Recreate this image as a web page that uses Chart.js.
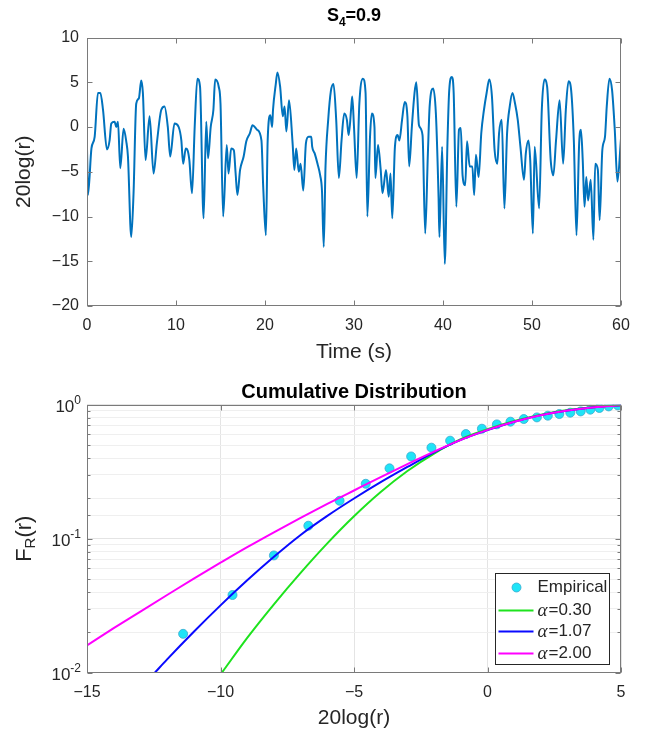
<!DOCTYPE html>
<html>
<head>
<meta charset="utf-8">
<script src="https://cdn.jsdelivr.net/npm/chart.js@4.4.0/dist/chart.umd.min.js"></script>
<style>
  html, body { margin: 0; padding: 0; background: #fff; }
  #quadro { position: relative; width: 649px; height: 734px; }
  canvas { position: absolute; left: 0; }
</style>
</head>
<body>
<div id="quadro">
  <canvas id="serie" width="649" height="365" style="top:0"></canvas>
  <canvas id="cdf" width="649" height="369" style="top:365px"></canvas>
</div>
<script>
// ---- dados ----
// sinal no tempo (s) e nível em dB
const tempo = [
  0, 0.11, 0.5, 0.86, 1.23, 1.5, 1.8, 2.24, 2.54, 2.73, 3.1, 3.29, 3.48, 3.74, 4.11, 4.41, 4.6, 4.97, 5.23, 5.53, 5.83, 6.09, 6.28, 6.58, 7.03, 7.48, 7.85, 8.34, 8.71, 9.08, 9.35, 9.83,
  10.3, 10.6, 10.8, 11.1, 11.3, 11.5, 11.8, 12.1, 12.4, 12.7, 13.1, 13.4, 13.6, 13.9, 14.2, 14.4, 14.8, 15.0, 15.3, 15.7, 15.9, 16.2, 16.5, 16.7, 16.9, 17.2, 17.6, 17.9, 18.3, 18.6, 19.1, 19.6, 19.8, 20.1,
  20.3, 20.6, 20.8, 20.9, 21.2, 21.4, 21.7, 22.0, 22.2, 22.4, 22.7, 23.1, 23.3, 23.5, 23.8, 24.0, 24.3, 24.6, 24.9, 25.2, 25.3, 25.6, 25.9, 26.2, 26.4, 26.6, 26.8, 27.1, 27.4, 27.7, 28.0, 28.3, 28.6, 28.9, 29.2, 29.4, 29.7, 29.8, 30.0, 30.3,
  30.6, 31.0, 31.3, 31.5, 31.8, 32.0, 32.3, 32.4, 32.7, 33.0, 33.2, 33.6, 33.9, 34.1, 34.3, 34.6, 34.9, 35.1, 35.4, 35.7, 36.0, 36.2, 36.5, 36.8, 37.0, 37.3, 37.7, 38.0, 38.3, 38.5, 38.9, 39.2, 39.5, 39.6, 39.9, 40.2,
  40.5, 40.7, 41.0, 41.2, 41.5, 41.8, 42.0, 42.2, 42.5, 42.7, 43.0, 43.3, 43.5, 43.7, 44.0, 44.3, 44.6, 44.9, 45.2, 45.5, 45.8, 46.1, 46.3, 46.6, 46.9, 47.2, 47.5, 47.8, 48.1, 48.4, 48.7, 49.1, 49.3, 49.6, 49.8, 50.1,
  50.3, 50.8, 51.1, 51.4, 51.7, 52.1, 52.4, 52.7, 53.1, 53.5, 53.8, 54.1, 54.4, 54.7, 55.0, 55.3, 55.5, 55.7, 55.9, 56.1, 56.3, 56.6, 56.9, 57.1, 57.4, 57.6, 57.9, 58.2, 58.4, 58.7, 59.0, 59.3, 59.6, 60.0
];
const nivel = [
  -2.3, -7.6, -2.4, -1.1, 3.8, 3.8, 1.9, -2.5, -1.5, 0.4, 0.6, 0.0, 0.6, -4.6, -0.2, -1.6, -3.3, -12.3, -7.4, 2.6, 3.2, 5.2, 3.8, -3.7, 1.2, -5.2, -1.8, 1.9, 2.3, 0.0, -3.3, 0.4,
  0.0, -1.5, -4.1, -2.4, -2.6, -3.7, -7.4, 0.0, 5.4, 4.5, -10.2, 0.6, -3.5, 0.0, 1.9, 5.3, 4.5, 2.6, -10.0, -2.0, -5.2, -2.4, -2.6, -5.2, -7.6, -4.8, -3.3, -1.6, -0.7, 0.2, -0.3, -1.5, -6.7, -12.1,
  -1.5, 1.3, 0.0, 1.9, 4.7, 6.1, 4.5, 1.2, 2.3, -0.5, 3.0, -1.8, -4.8, -2.4, -5.0, -4.1, -7.1, -1.8, -1.1, -1.1, -2.2, -3.0, -4.1, -5.4, -7.1, -13.4, -4.4, 0.8, 4.0, 4.8, 0.8, -5.7, -1.5, 1.5, 0.8, -0.9, 2.3, 3.4, 0.0, -5.7,
  2.6, 5.4, 3.8, -10.0, -1.1, 1.5, 0.0, -5.7, -2.0, -4.8, -7.4, -4.8, -7.8, -5.2, -10.2, -2.2, -0.9, -1.5, 0.8, 2.8, 1.2, -4.4, 0.0, 3.8, 5.0, 0.2, -0.9, -11.9, -3.0, 2.3, 4.3, 1.5, -7.8, -12.3, -2.2, -15.3,
  -1.8, 4.1, 5.6, 3.8, -8.9, -0.3, -0.1, -5.4, -6.5, -1.6, -4.4, -4.4, -7.6, -3.1, -5.6, -0.7, 1.9, 3.8, 5.3, 3.4, -2.6, -4.1, -0.7, 0.8, -9.1, -0.7, 2.3, 3.8, 2.6, 0.8, -2.2, -5.9, -3.0, -1.5, -3.7, -11.9,
  -2.2, -9.1, 1.9, 5.3, 4.5, -3.7, -5.4, -1.5, 3.0, -4.1, 1.9, 5.1, 4.1, -1.5, -12.1, -1.8, -0.3, -3.7, -8.9, -5.6, -8.2, -5.9, -12.6, -4.1, -4.8, -10.4, -2.6, -1.1, 2.3, 5.4, 4.1, -0.3, -6.1, -1.3
];

// distribuição acumulada empírica
const empX = [-11.4, -9.55, -8.0, -6.71, -5.54, -4.56, -3.67, -2.86, -2.1, -1.4, -0.81, -0.21, 0.35, 0.86, 1.36, 1.85, 2.26, 2.69, 3.1, 3.49, 3.85, 4.19, 4.54, 4.88];
const empY = [0.0195, 0.038, 0.075, 0.125, 0.192, 0.257, 0.335, 0.411, 0.478, 0.539, 0.604, 0.662, 0.713, 0.747, 0.782, 0.804, 0.828, 0.852, 0.872, 0.891, 0.918, 0.945, 0.971, 0.988];

// curvas teóricas (alfa = 0.30, 1.07, 2.00)
const verdeX = [-9.95, -9, -8, -7, -6, -5, -4, -3, -2, -1, 0, 1, 2, 3, 4, 5];
const verdeY = [0.0100, 0.0182, 0.0324, 0.0556, 0.0923, 0.147, 0.223, 0.320, 0.432, 0.553, 0.656, 0.755, 0.843, 0.912, 0.962, 0.991];
const azulX = [-12.46, -12, -11, -10, -9, -8, -7, -6, -5, -4, -3, -2, -1, 0, 1, 2, 3, 4, 5];
const azulY = [0.0100, 0.01256, 0.0202, 0.0318, 0.0489, 0.0733, 0.1067, 0.148, 0.1995, 0.264, 0.343, 0.441, 0.547, 0.646, 0.746, 0.836, 0.906, 0.959, 0.991];
const magentaX = [-15, -14, -13, -12, -11, -10, -9, -8, -7, -6, -5, -4, -3, -2, -1, 0, 1, 2, 3, 4, 5];
const magentaY = [0.0160, 0.0215, 0.0286, 0.0380, 0.0504, 0.0662, 0.0865, 0.1117, 0.1429, 0.1816, 0.229, 0.2884, 0.3606, 0.4467, 0.5458, 0.6486, 0.7464, 0.8337, 0.9036, 0.9572, 0.9886];

const rotulos = ['Empirical', 'α=0.30', 'α=1.07', 'α=2.00'];
const ticksTempo = [0, 10, 20, 30, 40, 50, 60];

// ---- estilo ----
const SANS = '"Liberation Sans", Arial, sans-serif';
Chart.defaults.font.family = SANS;
Chart.defaults.color = '#262626';
const EIXO = '#7a7a7a';

function pares(xs, ys) { return xs.map((x, i) => ({ x, y: ys[i] })); }
function menos(v) { return v < 0 ? '\u2212' + Math.abs(v) : String(v); }
function ehDecada(v) { const l = Math.log10(v); return Math.abs(l - Math.round(l)) < 1e-6; }

// moldura completa + ticks para dentro (estilo matlab)
const moldura = {
  id: 'moldura',
  afterDatasetsDraw(chart) {
    const { ctx, chartArea: a, scales } = chart;
    const L = Math.round(a.left) + 0.5, R = Math.round(a.right) - 0.5;
    const T = Math.round(a.top) + 0.5, B = Math.round(a.bottom) - 0.5;
    ctx.save();
    ctx.strokeStyle = EIXO;
    ctx.lineWidth = 1;
    ctx.beginPath();
    scales.x.ticks.forEach(t => {
      const px = Math.round(scales.x.getPixelForValue(t.value)) + 0.5;
      ctx.moveTo(px, B); ctx.lineTo(px, B - 5);
      ctx.moveTo(px, T); ctx.lineTo(px, T + 5);
    });
    scales.y.ticks.forEach(t => {
      const py = Math.round(scales.y.getPixelForValue(t.value)) + 0.5;
      const n = scales.y.type === 'logarithmic' && !ehDecada(t.value) ? 3 : 5;
      ctx.moveTo(L, py); ctx.lineTo(L + n, py);
      ctx.moveTo(R, py); ctx.lineTo(R - n, py);
    });
    ctx.stroke();
    ctx.strokeRect(L, T, R - L, B - T);
    ctx.restore();
  }
};

// titulo com subscrito
const tituloSerie = {
  id: 'tituloSerie',
  afterDraw(chart) {
    const { ctx, chartArea: a } = chart;
    const big = 'bold 18px ' + SANS, small = 'bold 12px ' + SANS;
    ctx.save();
    ctx.fillStyle = '#000';
    ctx.textBaseline = 'alphabetic';
    ctx.font = big; const w1 = ctx.measureText('S').width, w3 = ctx.measureText('=0.9').width;
    ctx.font = small; const w2 = ctx.measureText('4').width;
    let x = (a.left + a.right) / 2 - (w1 + w2 + w3) / 2;
    const y = 21;
    ctx.font = big; ctx.fillText('S', x, y); x += w1;
    ctx.font = small; ctx.fillText('4', x, y + 5); x += w2;
    ctx.font = big; ctx.fillText('=0.9', x, y);
    ctx.restore();
  }
};

const textosCdf = {
  id: 'textosCdf',
  afterDraw(chart) {
    const { ctx, chartArea: a, scales } = chart;
    ctx.save();
    // titulo
    ctx.fillStyle = '#000';
    ctx.font = 'bold 20px ' + SANS;
    ctx.textAlign = 'center';
    ctx.textBaseline = 'alphabetic';
    ctx.fillText('Cumulative Distribution', (a.left + a.right) / 2, 33);
    // rotulos do eixo y: 10^n
    ctx.fillStyle = '#262626';
    ctx.textAlign = 'right';
    scales.y.ticks.forEach(t => {
      if (!ehDecada(t.value)) return;
      const py = scales.y.getPixelForValue(t.value);
      const e = Math.round(Math.log10(t.value));
      const sup = e === 0 ? '0' : '-' + Math.abs(e);
      ctx.font = '12px ' + SANS;
      const ws = ctx.measureText(sup).width;
      const xr = a.left - 6;
      ctx.fillText(sup, xr, py - 1);
      ctx.font = '17px ' + SANS;
      ctx.fillText('10', xr - ws, py + 7);
    });
    // titulo do eixo y: F_R(r)
    ctx.translate(25, (a.top + a.bottom) / 2);
    ctx.rotate(-Math.PI / 2);
    ctx.textAlign = 'left';
    ctx.textBaseline = 'middle';
    const f1 = '22px ' + SANS, f2 = '15px ' + SANS;
    ctx.font = f1; const wa = ctx.measureText('F').width, wc = ctx.measureText('(r)').width;
    ctx.font = f2; const wb = ctx.measureText('R').width;
    let x = -(wa + wb + wc) / 2;
    ctx.font = f1; ctx.fillText('F', x, 0); x += wa;
    ctx.font = f2; ctx.fillText('R', x, 6); x += wb;
    ctx.font = f1; ctx.fillText('(r)', x, 0);
    ctx.restore();
  }
};

// legenda dentro da area do grafico
const legenda = {
  id: 'legenda',
  afterDraw(chart) {
    const { ctx, chartArea: a } = chart;
    const w = 114, h = 91;
    const x0 = Math.round(a.right - 12 - w) + 0.5, y0 = Math.round(a.bottom - 9 - h) + 0.5;
    const linhas = [14, 37, 58, 80];
    ctx.save();
    ctx.fillStyle = '#fff';
    ctx.fillRect(x0, y0, w, h);
    ctx.strokeStyle = '#262626';
    ctx.lineWidth = 1;
    ctx.strokeRect(x0, y0, w, h);
    ctx.textBaseline = 'middle';
    chart.data.datasets.forEach((ds, i) => {
      const y = y0 + linhas[i];
      if (ds.showLine === false) {
        ctx.beginPath();
        ctx.arc(x0 + 21, y, 4.5, 0, Math.PI * 2);
        ctx.fillStyle = ds.backgroundColor;
        ctx.fill();
        ctx.strokeStyle = ds.borderColor;
        ctx.lineWidth = 0.8;
        ctx.stroke();
      } else {
        ctx.beginPath();
        ctx.moveTo(x0 + 3, y); ctx.lineTo(x0 + 38, y);
        ctx.strokeStyle = ds.borderColor;
        ctx.lineWidth = 2;
        ctx.stroke();
      }
      ctx.fillStyle = '#262626';
      let x = x0 + 42;
      let txt = ds.label;
      if (txt.startsWith('α')) {
        ctx.font = 'italic 19px "Liberation Serif", serif';
        ctx.fillText('α', x, y);
        x += ctx.measureText('α').width + 1;
        txt = txt.slice(1);
      }
      ctx.font = '17px ' + SANS;
      ctx.fillText(txt, x, y);
    });
    ctx.restore();
  }
};

// ---- grafico 1: sinal ----
new Chart(document.getElementById('serie'), {
  type: 'line',
  data: {
    datasets: [{
      data: pares(tempo, nivel),
      borderColor: '#0072bd',
      borderWidth: 2,
      pointRadius: 0,
      cubicInterpolationMode: 'monotone'
    }]
  },
  options: {
    responsive: false,
    animation: false,
    layout: { padding: { left: 0, right: 28, top: 37.5, bottom: 0 } },
    plugins: { legend: { display: false }, tooltip: { enabled: false } },
    scales: {
      x: {
        type: 'linear', min: 0, max: 60,
        afterBuildTicks: s => { s.ticks = ticksTempo.map(v => ({ value: v })); },
        afterFit: s => { s.height = 59; },
        grid: { display: false, drawTicks: false },
        border: { display: false },
        ticks: { font: { size: 16 }, padding: 10, maxRotation: 0, callback: v => menos(v) },
        title: { display: true, text: 'Time (s)', font: { size: 21 }, padding: { top: 0, bottom: 0 } }
      },
      y: {
        min: -20, max: 10,
        afterFit: s => { s.width = 87; },
        grid: { display: false, drawTicks: false },
        border: { display: false },
        ticks: { stepSize: 5, font: { size: 16 }, padding: 8, callback: v => menos(v) },
        title: { display: true, text: '20log(r)', font: { size: 21 }, padding: { top: 12, bottom: 0 } }
      }
    }
  },
  plugins: [moldura, tituloSerie]
});

// ---- grafico 2: distribuição acumulada ----
new Chart(document.getElementById('cdf'), {
  type: 'line',
  data: {
    datasets: [
      { label: rotulos[0], data: pares(empX, empY), showLine: false, pointRadius: 4.5,
        backgroundColor: '#1fe4f7', borderColor: '#37a9cf', borderWidth: 0.8, order: 4 },
      { label: rotulos[1], data: pares(verdeX, verdeY), borderColor: '#1ee31e', borderWidth: 2,
        pointRadius: 0, cubicInterpolationMode: 'monotone', order: 3 },
      { label: rotulos[2], data: pares(azulX, azulY), borderColor: '#0a0aff', borderWidth: 2,
        pointRadius: 0, cubicInterpolationMode: 'monotone', order: 2 },
      { label: rotulos[3], data: pares(magentaX, magentaY), borderColor: '#ff00ff', borderWidth: 2,
        pointRadius: 0, cubicInterpolationMode: 'monotone', order: 1 }
    ]
  },
  options: {
    responsive: false,
    animation: false,
    layout: { padding: { left: 0, right: 28, top: 39.7, bottom: 0 } },
    plugins: { legend: { display: false }, tooltip: { enabled: false } },
    scales: {
      x: {
        type: 'linear', min: -15, max: 5,
        afterFit: s => { s.height = 61.3; },
        grid: { color: '#e4e4e4', drawTicks: false },
        border: { display: false },
        ticks: { stepSize: 5, font: { size: 16 }, padding: 10, maxRotation: 0, callback: v => menos(v) },
        title: { display: true, text: '20log(r)', font: { size: 21 }, padding: { top: 0, bottom: 3 } }
      },
      y: {
        type: 'logarithmic', min: 0.01, max: 1,
        afterFit: s => { s.width = 87; },
        grid: { drawTicks: false, color: c => (c.tick && ehDecada(c.tick.value)) ? '#e4e4e4' : '#efefef' },
        border: { display: false },
        ticks: { display: false, autoSkip: false, callback: v => String(v) }
      }
    }
  },
  plugins: [moldura, textosCdf, legenda]
});
</script>
</body>
</html>
